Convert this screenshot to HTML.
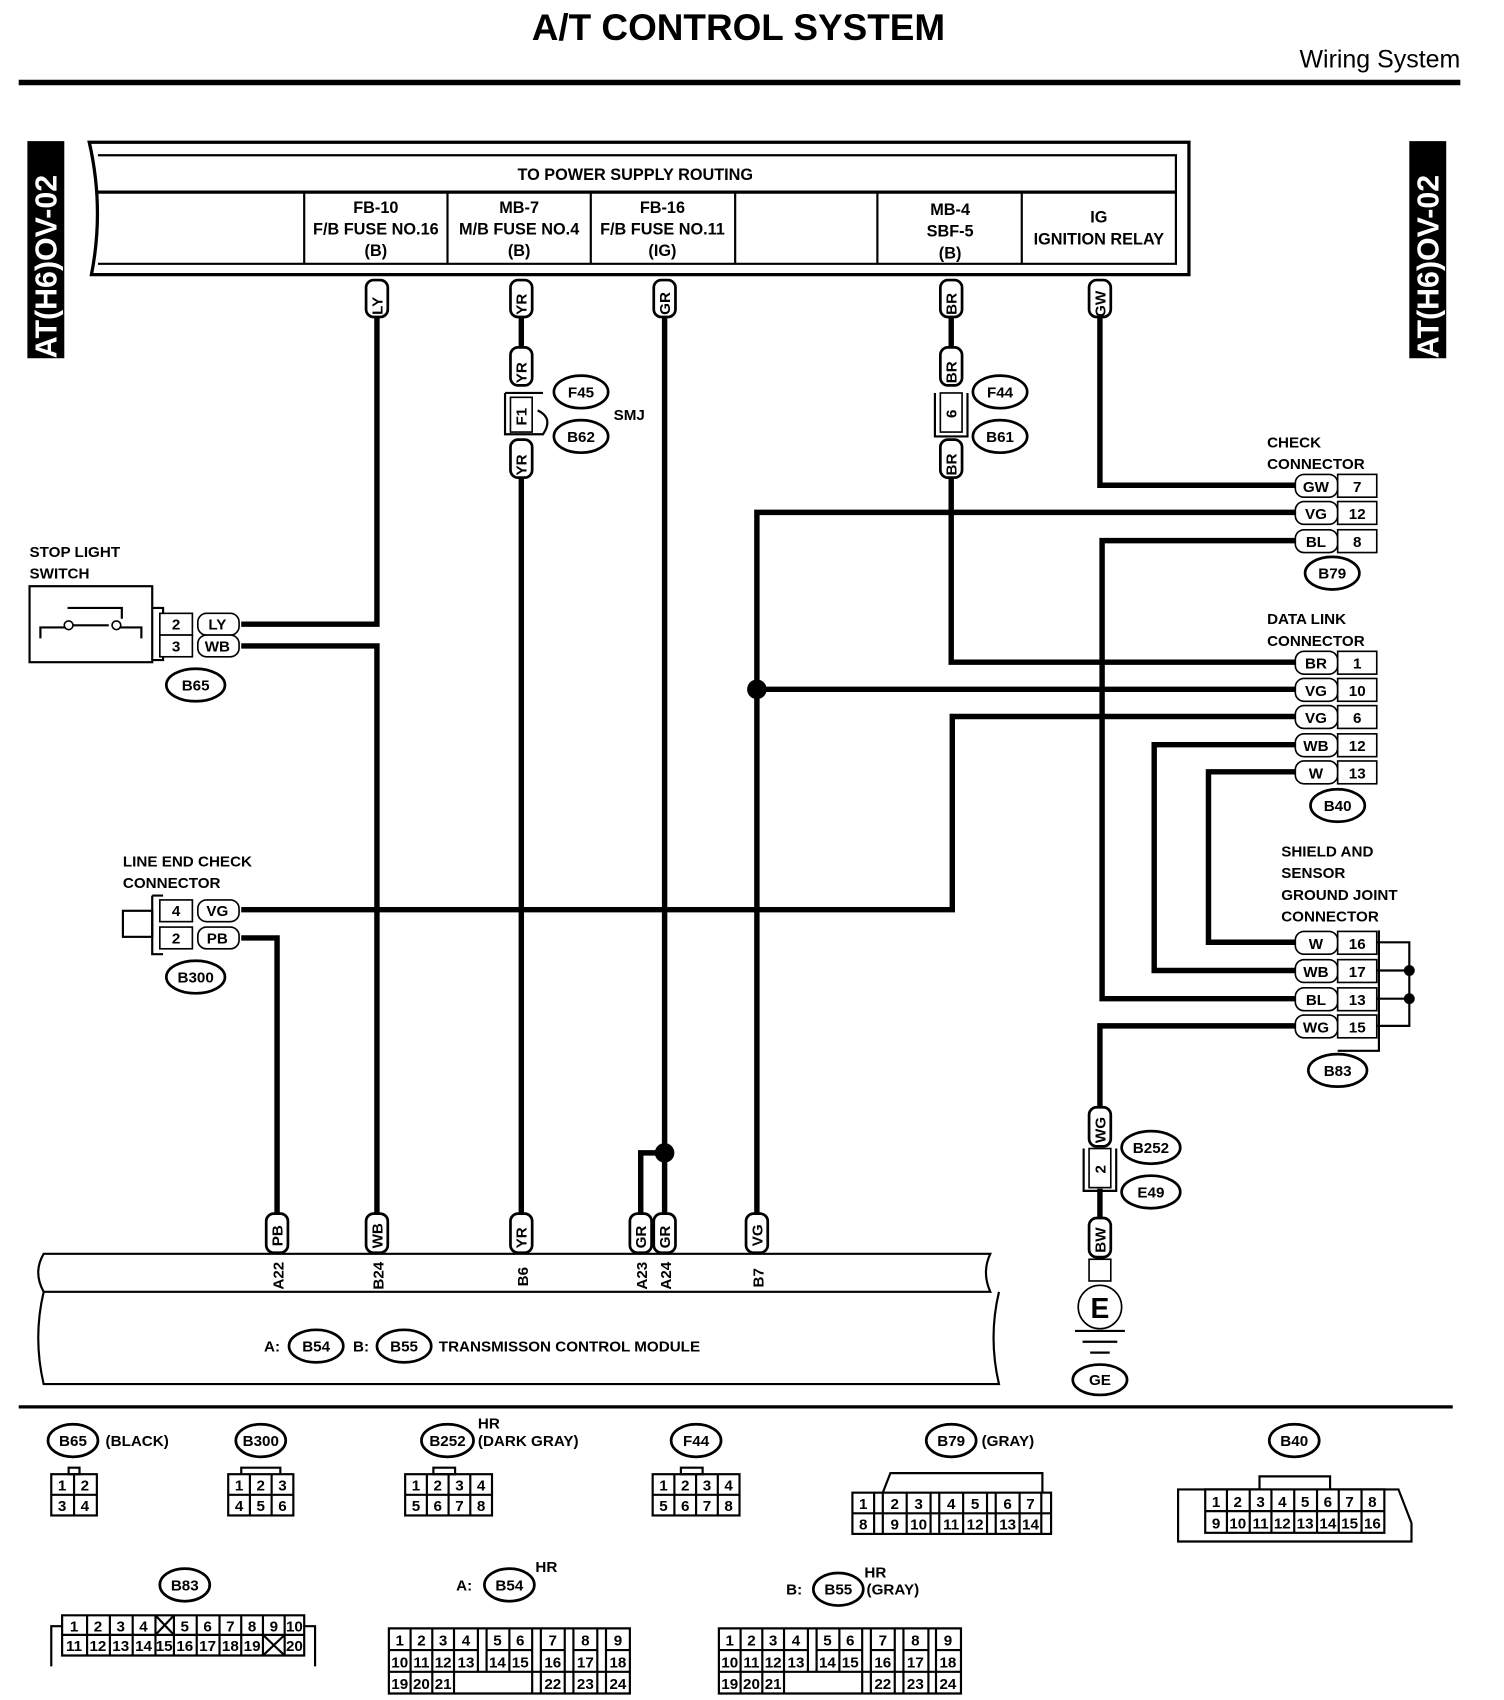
<!DOCTYPE html>
<html><head><meta charset="utf-8"><style>
html,body{margin:0;padding:0;background:#fff}
svg{display:block}
text{font-family:"Liberation Sans",sans-serif;font-weight:bold;fill:#000}
.w{stroke:#000;stroke-width:5;fill:none}
.l{stroke:#000;stroke-width:2;fill:none}
.c{stroke:#000;stroke-width:1.5;fill:#fff}
.o{stroke:#000;stroke-width:2.5;fill:#fff}
.s{font-size:15px}
.m{font-size:14px}
.n{font-size:14px;font-weight:normal}
</style></head><body>
<svg width="1504" height="1700" viewBox="0 0 1385 1566" xmlns="http://www.w3.org/2000/svg">
<!-- header -->
<text x="680" y="37" font-size="34" text-anchor="middle">A/T CONTROL SYSTEM</text>
<text x="1345" y="62" font-size="23" text-anchor="end" style="font-weight:normal">Wiring System</text>
<line x1="17" y1="76" x2="1345" y2="76" stroke="#000" stroke-width="5"/>
<!-- side labels -->
<rect x="25" y="130" width="34" height="200" fill="#000"/>
<text transform="translate(52,330) rotate(-90)" font-size="28" style="fill:#fff">AT(H6)OV-02</text>
<rect x="1298" y="130" width="34" height="200" fill="#000"/>
<text transform="translate(1325,330) rotate(-90)" font-size="28" style="fill:#fff">AT(H6)OV-02</text>
<!-- power box -->
<path d="M82,131 H1095 V253 H84 Q96,192 82,131 Z" stroke="#000" stroke-width="3" fill="#fff"/>
<path d="M90,143 H1083 V243 H90" class="l" stroke-width="3"/>
<line x1="90" y1="177" x2="1083" y2="177" stroke="#000" stroke-width="3"/>
<g class="l"><line x1="280" y1="177" x2="280" y2="243"/><line x1="412" y1="177" x2="412" y2="243"/><line x1="544" y1="177" x2="544" y2="243"/><line x1="677" y1="177" x2="677" y2="243"/><line x1="808" y1="177" x2="808" y2="243"/><line x1="941" y1="177" x2="941" y2="243"/></g>
<text x="585" y="166" class="s" text-anchor="middle">TO POWER SUPPLY ROUTING</text>
<g class="s" text-anchor="middle">
<text x="346" y="196">FB-10</text><text x="346" y="216">F/B FUSE NO.16</text><text x="346" y="236">(B)</text>
<text x="478" y="196">MB-7</text><text x="478" y="216">M/B FUSE NO.4</text><text x="478" y="236">(B)</text>
<text x="610" y="196">FB-16</text><text x="610" y="216">F/B FUSE NO.11</text><text x="610" y="236">(IG)</text>
<text x="875" y="198">MB-4</text><text x="875" y="218">SBF-5</text><text x="875" y="238">(B)</text>
<text x="1012" y="205">IG</text><text x="1012" y="225">IGNITION RELAY</text>
</g>
<!-- wires -->
<g class="w">
<path d="M347,292 V575 H222"/>
<path d="M222,595 H347 V1118"/>
<path d="M480,292 V320"/><path d="M480,440 V1118"/>
<path d="M612,292 V1118"/><path d="M612,1062 H590 V1118"/>
<path d="M876,292 V320"/><path d="M876,440 V610 H1193"/>
<path d="M1013,292 V447 H1193"/>
<path d="M1193,472 H697 V1118"/><path d="M697,635 H1193"/>
<path d="M1193,498 H1015 V920 H1193"/>
<path d="M1193,660 H877 V838 H222"/>
<path d="M1193,686 H1063 V894 H1193"/>
<path d="M1193,711 H1113 V868 H1193"/>
<path d="M1193,945 H1013 V1020"/><path d="M1013,1095 V1122"/>
<path d="M222,864 H255 V1118"/>
</g>
<circle cx="612" cy="1062" r="9"/><circle cx="697" cy="635" r="9"/>
<!-- vertical tags -->
<g class="o" stroke-width="2">
<rect x="337" y="258" width="20" height="34" rx="7"/><rect x="470" y="258" width="20" height="34" rx="7"/>
<rect x="602" y="258" width="20" height="34" rx="7"/><rect x="866" y="258" width="20" height="34" rx="7"/>
<rect x="1003" y="258" width="20" height="34" rx="7"/>
<rect x="470" y="320" width="20" height="35" rx="7"/><rect x="470" y="405" width="20" height="35" rx="7"/>
<rect x="866" y="320" width="20" height="35" rx="7"/><rect x="866" y="405" width="20" height="35" rx="7"/>
<rect x="245" y="1118" width="20" height="36" rx="7"/><rect x="337" y="1118" width="20" height="36" rx="7"/>
<rect x="470" y="1118" width="20" height="36" rx="7"/><rect x="580" y="1118" width="20" height="36" rx="7"/>
<rect x="602" y="1118" width="20" height="36" rx="7"/><rect x="687" y="1118" width="20" height="36" rx="7"/>
<rect x="1003" y="1020" width="20" height="36" rx="7"/><rect x="1003" y="1122" width="20" height="36" rx="7"/>
</g>
<g class="m">
<text transform="translate(352,290) rotate(-90)">LY</text><text transform="translate(485,290) rotate(-90)">YR</text>
<text transform="translate(617,290) rotate(-90)">GR</text><text transform="translate(881,290) rotate(-90)">BR</text>
<text transform="translate(1018,292) rotate(-90)">GW</text>
<text transform="translate(485,353) rotate(-90)">YR</text><text transform="translate(485,438) rotate(-90)">YR</text>
<text transform="translate(881,353) rotate(-90)">BR</text><text transform="translate(881,438) rotate(-90)">BR</text>
<text transform="translate(260,1148) rotate(-90)">PB</text><text transform="translate(352,1150) rotate(-90)">WB</text>
<text transform="translate(485,1150) rotate(-90)">YR</text><text transform="translate(595,1150) rotate(-90)">GR</text>
<text transform="translate(617,1150) rotate(-90)">GR</text><text transform="translate(702,1148) rotate(-90)">VG</text>
<text transform="translate(1018,1053) rotate(-90)">WG</text><text transform="translate(1018,1154) rotate(-90)">BW</text>
</g>
<!-- F1 / 6 / 2 boxes -->
<path d="M465,362 H500 M465,362 V400 H500 Q510,385 495,378" class="l" stroke-width="2.5"/>
<rect x="470" y="366" width="20" height="32" class="c" stroke-width="2.5"/>
<text transform="translate(485,392) rotate(-90)" class="m">F1</text>
<path d="M861,362 V402 H891 V362" class="l" stroke-width="2.5"/>
<rect x="866" y="362" width="20" height="36" class="c" stroke-width="2.5"/>
<text transform="translate(881,385) rotate(-90)" class="m">6</text>
<path d="M998,1058 V1097 H1028 V1058" class="l" stroke-width="2.5"/>
<rect x="1003" y="1058" width="20" height="36" class="c" stroke-width="2.5"/>
<text transform="translate(1018,1081) rotate(-90)" class="m">2</text>
<!-- ovals -->
<g class="o">
<ellipse cx="535" cy="361" rx="25" ry="15"/><ellipse cx="535" cy="402" rx="25" ry="15"/>
<ellipse cx="921" cy="361" rx="25" ry="15"/><ellipse cx="921" cy="402" rx="25" ry="15"/>
<ellipse cx="1227" cy="528" rx="25" ry="15"/><ellipse cx="1232" cy="742" rx="25" ry="15"/>
<ellipse cx="1232" cy="986" rx="27" ry="15"/><ellipse cx="180" cy="631" rx="27" ry="15"/>
<ellipse cx="180" cy="900" rx="27" ry="15"/><ellipse cx="1060" cy="1057" rx="27" ry="15"/>
<ellipse cx="1060" cy="1098" rx="27" ry="15"/><ellipse cx="1013" cy="1271" rx="25" ry="14"/>
<ellipse cx="291" cy="1240" rx="25" ry="15"/><ellipse cx="372" cy="1240" rx="25" ry="15"/>
</g>
<g class="m" text-anchor="middle">
<text x="535" y="366">F45</text><text x="535" y="407">B62</text>
<text x="921" y="366">F44</text><text x="921" y="407">B61</text>
<text x="1227" y="533">B79</text><text x="1232" y="747">B40</text><text x="1232" y="991">B83</text>
<text x="180" y="636">B65</text><text x="180" y="905">B300</text>
<text x="1060" y="1062">B252</text><text x="1060" y="1103">E49</text><text x="1013" y="1276">GE</text>
<text x="291" y="1245">B54</text><text x="372" y="1245">B55</text>
</g>
<text x="565" y="387" class="m">SMJ</text>
<!-- right connectors -->
<g class="m">
<text x="1167" y="412">CHECK</text><text x="1167" y="432">CONNECTOR</text>
<text x="1167" y="575">DATA LINK</text><text x="1167" y="595">CONNECTOR</text>
<text x="1180" y="789">SHIELD AND</text><text x="1180" y="809">SENSOR</text><text x="1180" y="829">GROUND JOINT</text><text x="1180" y="849">CONNECTOR</text>
</g>
<g class="c" stroke-width="2">
<rect x="1193" y="437" width="39" height="21" rx="8"/><rect x="1232" y="437" width="36" height="21"/>
<rect x="1193" y="462" width="39" height="21" rx="8"/><rect x="1232" y="462" width="36" height="21"/>
<rect x="1193" y="488" width="39" height="21" rx="8"/><rect x="1232" y="488" width="36" height="21"/>
<rect x="1193" y="600" width="39" height="21" rx="8"/><rect x="1232" y="600" width="36" height="21"/>
<rect x="1193" y="625" width="39" height="21" rx="8"/><rect x="1232" y="625" width="36" height="21"/>
<rect x="1193" y="650" width="39" height="21" rx="8"/><rect x="1232" y="650" width="36" height="21"/>
<rect x="1193" y="676" width="39" height="21" rx="8"/><rect x="1232" y="676" width="36" height="21"/>
<rect x="1193" y="701" width="39" height="21" rx="8"/><rect x="1232" y="701" width="36" height="21"/>
<rect x="1193" y="858" width="39" height="21" rx="8"/><rect x="1232" y="858" width="36" height="21"/>
<rect x="1193" y="884" width="39" height="21" rx="8"/><rect x="1232" y="884" width="36" height="21"/>
<rect x="1193" y="910" width="39" height="21" rx="8"/><rect x="1232" y="910" width="36" height="21"/>
<rect x="1193" y="935" width="39" height="21" rx="8"/><rect x="1232" y="935" width="36" height="21"/>
</g>
<path d="M1270,857 V968 H1232 M1268,868 H1298 V945 H1268 M1268,894 H1298 M1268,920 H1298" class="l"/>
<circle cx="1298" cy="894" r="5"/><circle cx="1298" cy="920" r="5"/>
<g class="m" text-anchor="middle">
<text x="1212" y="453">GW</text><text x="1250" y="453">7</text>
<text x="1212" y="478">VG</text><text x="1250" y="478">12</text>
<text x="1212" y="504">BL</text><text x="1250" y="504">8</text>
<text x="1212" y="616">BR</text><text x="1250" y="616">1</text>
<text x="1212" y="641">VG</text><text x="1250" y="641">10</text>
<text x="1212" y="666">VG</text><text x="1250" y="666">6</text>
<text x="1212" y="692">WB</text><text x="1250" y="692">12</text>
<text x="1212" y="717">W</text><text x="1250" y="717">13</text>
<text x="1212" y="874">W</text><text x="1250" y="874">16</text>
<text x="1212" y="900">WB</text><text x="1250" y="900">17</text>
<text x="1212" y="926">BL</text><text x="1250" y="926">13</text>
<text x="1212" y="951">WG</text><text x="1250" y="951">15</text>
</g>
<!-- ground -->
<rect x="1003" y="1160" width="20" height="20" class="c" stroke-width="2"/>
<circle cx="1013" cy="1204" r="20" class="c" stroke-width="3"/>
<text x="1013" y="1214" font-size="26" text-anchor="middle">E</text>
<path d="M990,1226 H1036 M997,1236 H1029 M1004,1246 H1022" class="l" stroke-width="2.5"/>
<!-- stop light switch -->
<text x="27" y="513" class="m">STOP LIGHT</text><text x="27" y="533" class="m">SWITCH</text>
<rect x="27" y="540" width="113" height="70" class="l"/>
<path d="M37,588 V578 H60 M66,576 H100 M106,578 H130 V588 M62,560 H112 V570" class="l"/>
<circle cx="63" cy="576" r="4" class="c"/><circle cx="107" cy="576" r="4" class="c"/>
<path d="M140,560 H150 V608 H140" class="l"/>
<g class="c" stroke-width="2">
<rect x="147" y="565" width="30" height="20"/><rect x="182" y="565" width="38" height="20" rx="8"/>
<rect x="147" y="585" width="30" height="20"/><rect x="182" y="585" width="38" height="20" rx="8"/>
</g>
<g class="m" text-anchor="middle"><text x="162" y="580">2</text><text x="200" y="580">LY</text><text x="162" y="600">3</text><text x="200" y="600">WB</text></g>
<!-- line end check -->
<text x="113" y="798" class="m">LINE END CHECK</text><text x="113" y="818" class="m">CONNECTOR</text>
<rect x="113" y="839" width="27" height="24" class="l"/>
<path d="M140,825 V879 H150 M140,825 H150" class="l"/>
<g class="c" stroke-width="2">
<rect x="147" y="829" width="30" height="20"/><rect x="182" y="829" width="38" height="20" rx="8"/>
<rect x="147" y="854" width="30" height="20"/><rect x="182" y="854" width="38" height="20" rx="8"/>
</g>
<g class="m" text-anchor="middle"><text x="162" y="844">4</text><text x="200" y="844">VG</text><text x="162" y="869">2</text><text x="200" y="869">PB</text></g>
<!-- TCM -->
<path d="M40,1155 H912 Q904,1172 912,1190 H40 Q30,1172 40,1155 Z" class="l" stroke-width="3"/>
<path d="M40,1190 Q30,1232 40,1275 H920 Q910,1232 920,1190" class="l" stroke-width="3"/>
<g class="m">
<text transform="translate(261,1188) rotate(-90)">A22</text><text transform="translate(353,1188) rotate(-90)">B24</text>
<text transform="translate(486,1185) rotate(-90)">B6</text><text transform="translate(596,1188) rotate(-90)">A23</text>
<text transform="translate(618,1188) rotate(-90)">A24</text><text transform="translate(703,1186) rotate(-90)">B7</text>
<text x="243" y="1245">A:</text><text x="325" y="1245">B:</text><text x="404" y="1245">TRANSMISSON CONTROL MODULE</text>
</g>
<line x1="17" y1="1296" x2="1338" y2="1296" stroke="#000" stroke-width="3"/>
<!-- bottom connectors -->
<g class="o">
<ellipse cx="67" cy="1327" rx="23" ry="15"/><ellipse cx="240" cy="1327" rx="23" ry="15"/>
<ellipse cx="412" cy="1327" rx="24" ry="15"/><ellipse cx="641" cy="1327" rx="23" ry="15"/>
<ellipse cx="876" cy="1327" rx="23" ry="15"/><ellipse cx="1192" cy="1327" rx="23" ry="15"/>
<ellipse cx="170" cy="1460" rx="23" ry="15"/><ellipse cx="469" cy="1460" rx="23" ry="15"/>
<ellipse cx="772" cy="1464" rx="23" ry="15"/>
</g>
<g class="m" text-anchor="middle">
<text x="67" y="1332">B65</text><text x="240" y="1332">B300</text><text x="412" y="1332">B252</text>
<text x="641" y="1332">F44</text><text x="876" y="1332">B79</text><text x="1192" y="1332">B40</text>
<text x="170" y="1465">B83</text><text x="469" y="1465">B54</text><text x="772" y="1469">B55</text>
</g>
<g class="m">
<text x="97" y="1332">(BLACK)</text><text x="440" y="1332">(DARK GRAY)</text><text x="440" y="1316">HR</text>
<text x="904" y="1332">(GRAY)</text><text x="420" y="1465">A:</text><text x="493" y="1448">HR</text>
<text x="724" y="1469">B:</text><text x="796" y="1453">HR</text><text x="798" y="1469">(GRAY)</text>
</g>
<g class="l" stroke-width="2">
<rect x="47" y="1358" width="42" height="38"/><line x1="68" y1="1358" x2="68" y2="1396"/><line x1="47" y1="1377" x2="89" y2="1377"/><rect x="63" y="1352" width="10" height="6"/>
<rect x="210" y="1358" width="60" height="38"/><line x1="230" y1="1358" x2="230" y2="1396"/><line x1="250" y1="1358" x2="250" y2="1396"/><line x1="210" y1="1377" x2="270" y2="1377"/><path d="M222,1358 V1352 H258 V1358"/>
<rect x="373" y="1358" width="80" height="38"/><line x1="393" y1="1358" x2="393" y2="1396"/><line x1="413" y1="1358" x2="413" y2="1396"/><line x1="433" y1="1358" x2="433" y2="1396"/><line x1="373" y1="1377" x2="453" y2="1377"/><rect x="399" y="1352" width="20" height="6"/>
<rect x="601" y="1358" width="80" height="38"/><line x1="621" y1="1358" x2="621" y2="1396"/><line x1="641" y1="1358" x2="641" y2="1396"/><line x1="661" y1="1358" x2="661" y2="1396"/><line x1="601" y1="1377" x2="681" y2="1377"/><rect x="627" y="1352" width="20" height="6"/>
<rect x="785" y="1375" width="183" height="38"/><line x1="785" y1="1394" x2="968" y2="1394"/><path d="M805,1375 V1413 M813,1375 V1413 M835,1375 V1413 M857,1375 V1413 M865,1375 V1413 M887,1375 V1413 M909,1375 V1413 M917,1375 V1413 M939,1375 V1413 M959,1375 V1413 M813,1375 L820,1357 H960 V1375"/>
<path d="M1085,1420 V1372 H1160 V1360 H1225 V1372 H1288 L1300,1403 V1420 Z"/>
<rect x="1110" y="1372" width="165" height="40"/><line x1="1110" y1="1392" x2="1275" y2="1392"/><path d="M1130,1372 V1412 M1151,1372 V1412 M1171,1372 V1412 M1192,1372 V1412 M1213,1372 V1412 M1233,1372 V1412 M1254,1372 V1412"/>
<path d="M47,1535 V1498 H57 M280,1498 H290 V1535 M57,1488 H280 V1525 H57 Z"/><line x1="57" y1="1506" x2="280" y2="1506"/><path d="M80,1488 V1525 M101,1488 V1525 M122,1488 V1525 M143,1488 V1525 M160,1488 V1525 M181,1488 V1525 M202,1488 V1525 M222,1488 V1525 M242,1488 V1525 M262,1488 V1525 M143,1488 L160,1506 M160,1488 L143,1506 M242,1506 L262,1525 M262,1506 L242,1525"/>
<path d="M358,1500 V1560 H580 V1500 Z M358,1520 H440 M358,1540 H580 M448,1520 H490 M498,1520 H520 M528,1520 H550 M558,1520 H580 M378,1500 V1560 M398,1500 V1560 M418,1500 V1560 M440,1500 V1540 M448,1500 V1540 M469,1500 V1540 M490,1500 V1560 M498,1500 V1560 M520,1500 V1560 M528,1500 V1560 M550,1500 V1560 M558,1500 V1560"/>
<path d="M662,1500 V1560 H885 V1500 Z M662,1520 H744 M662,1540 H885 M752,1520 H794 M802,1520 H824 M832,1520 H855 M862,1520 H885 M682,1500 V1560 M702,1500 V1560 M722,1500 V1560 M744,1500 V1540 M752,1500 V1540 M773,1500 V1540 M794,1500 V1560 M802,1500 V1560 M824,1500 V1560 M832,1500 V1560 M855,1500 V1560 M862,1500 V1560"/>
</g>
<g class="n" text-anchor="middle">
<text x="57" y="1373">1</text><text x="78" y="1373">2</text><text x="57" y="1392">3</text><text x="78" y="1392">4</text>
<text x="220" y="1373">1</text><text x="240" y="1373">2</text><text x="260" y="1373">3</text><text x="220" y="1392">4</text><text x="240" y="1392">5</text><text x="260" y="1392">6</text>
<text x="383" y="1373">1</text><text x="403" y="1373">2</text><text x="423" y="1373">3</text><text x="443" y="1373">4</text><text x="383" y="1392">5</text><text x="403" y="1392">6</text><text x="423" y="1392">7</text><text x="443" y="1392">8</text>
<text x="611" y="1373">1</text><text x="631" y="1373">2</text><text x="651" y="1373">3</text><text x="671" y="1373">4</text><text x="611" y="1392">5</text><text x="631" y="1392">6</text><text x="651" y="1392">7</text><text x="671" y="1392">8</text>
<text x="795" y="1390">1</text><text x="824" y="1390">2</text><text x="846" y="1390">3</text><text x="876" y="1390">4</text><text x="898" y="1390">5</text><text x="928" y="1390">6</text><text x="949" y="1390">7</text>
<text x="795" y="1409">8</text><text x="824" y="1409">9</text><text x="846" y="1409">10</text><text x="876" y="1409">11</text><text x="898" y="1409">12</text><text x="928" y="1409">13</text><text x="949" y="1409">14</text>
<text x="1120" y="1388">1</text><text x="1140" y="1388">2</text><text x="1161" y="1388">3</text><text x="1181" y="1388">4</text><text x="1202" y="1388">5</text><text x="1223" y="1388">6</text><text x="1243" y="1388">7</text><text x="1264" y="1388">8</text>
<text x="1120" y="1408">9</text><text x="1140" y="1408">10</text><text x="1161" y="1408">11</text><text x="1181" y="1408">12</text><text x="1202" y="1408">13</text><text x="1223" y="1408">14</text><text x="1243" y="1408">15</text><text x="1264" y="1408">16</text>
<text x="68" y="1503">1</text><text x="90" y="1503">2</text><text x="111" y="1503">3</text><text x="132" y="1503">4</text><text x="170" y="1503">5</text><text x="191" y="1503">6</text><text x="212" y="1503">7</text><text x="232" y="1503">8</text><text x="252" y="1503">9</text><text x="271" y="1503">10</text>
<text x="68" y="1521">11</text><text x="90" y="1521">12</text><text x="111" y="1521">13</text><text x="132" y="1521">14</text><text x="151" y="1521">15</text><text x="170" y="1521">16</text><text x="191" y="1521">17</text><text x="212" y="1521">18</text><text x="232" y="1521">19</text><text x="271" y="1521">20</text>
<text x="368" y="1516">1</text><text x="388" y="1516">2</text><text x="408" y="1516">3</text><text x="429" y="1516">4</text><text x="458" y="1516">5</text><text x="479" y="1516">6</text><text x="509" y="1516">7</text><text x="539" y="1516">8</text><text x="569" y="1516">9</text>
<text x="368" y="1536">10</text><text x="388" y="1536">11</text><text x="408" y="1536">12</text><text x="429" y="1536">13</text><text x="458" y="1536">14</text><text x="479" y="1536">15</text><text x="509" y="1536">16</text><text x="539" y="1536">17</text><text x="569" y="1536">18</text>
<text x="368" y="1556">19</text><text x="388" y="1556">20</text><text x="408" y="1556">21</text><text x="509" y="1556">22</text><text x="539" y="1556">23</text><text x="569" y="1556">24</text>
<text x="672" y="1516">1</text><text x="692" y="1516">2</text><text x="712" y="1516">3</text><text x="733" y="1516">4</text><text x="762" y="1516">5</text><text x="783" y="1516">6</text><text x="813" y="1516">7</text><text x="843" y="1516">8</text><text x="873" y="1516">9</text>
<text x="672" y="1536">10</text><text x="692" y="1536">11</text><text x="712" y="1536">12</text><text x="733" y="1536">13</text><text x="762" y="1536">14</text><text x="783" y="1536">15</text><text x="813" y="1536">16</text><text x="843" y="1536">17</text><text x="873" y="1536">18</text>
<text x="672" y="1556">19</text><text x="692" y="1556">20</text><text x="712" y="1556">21</text><text x="813" y="1556">22</text><text x="843" y="1556">23</text><text x="873" y="1556">24</text>
</g>
</svg>
</body></html>
